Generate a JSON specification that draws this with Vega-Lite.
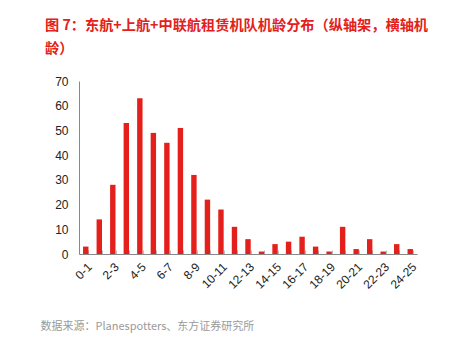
{
  "$schema": "https://vega.github.io/schema/vega-lite/v6.json",
  "width": 338,
  "height": 173,
  "padding": {"left": 40, "top": 18, "right": 5, "bottom": 5},
  "background": "white",
  "title": {
    "text": ["图 7：东航+上航+中联航租赁机队机龄分布（纵轴架，横轴机", "龄）"],
    "anchor": "start",
    "frame": "group",
    "dx": -34,
    "offset": 19,
    "color": "#E3201B",
    "font": "Noto Sans CJK SC",
    "fontSize": 14.2,
    "fontWeight": "bold",
    "lineHeight": 23
  },
  "config": {"view": {"stroke": null}},
  "data": {
    "values": [
      {"age": "0-1", "count": 3},
      {"age": "1-2", "count": 14},
      {"age": "2-3", "count": 28},
      {"age": "3-4", "count": 53},
      {"age": "4-5", "count": 63},
      {"age": "5-6", "count": 49},
      {"age": "6-7", "count": 45},
      {"age": "7-8", "count": 51},
      {"age": "8-9", "count": 32},
      {"age": "9-10", "count": 22},
      {"age": "10-11", "count": 18},
      {"age": "11-12", "count": 11},
      {"age": "12-13", "count": 6},
      {"age": "13-14", "count": 1},
      {"age": "14-15", "count": 4},
      {"age": "15-16", "count": 5},
      {"age": "16-17", "count": 7},
      {"age": "17-18", "count": 3},
      {"age": "18-19", "count": 1},
      {"age": "19-20", "count": 11},
      {"age": "20-21", "count": 2},
      {"age": "21-22", "count": 6},
      {"age": "22-23", "count": 1},
      {"age": "23-24", "count": 4},
      {"age": "24-25", "count": 2}
    ]
  },
  "mark": {"type": "bar", "color": "#E3201B"},
  "encoding": {
    "x": {
      "field": "age",
      "type": "nominal",
      "sort": null,
      "scale": {"paddingInner": 0.6, "paddingOuter": 0.3},
      "axis": {
        "title": "数据来源：Planespotters、东方证券研究所",
        "titleFont": "Noto Sans CJK SC",
        "titleFontSize": 11,
        "titleFontWeight": "normal",
        "titleColor": "#9a9a9a",
        "titleAnchor": "start",
        "titleAlign": "left",
        "titleX": -39,
        "titleY": 75,
        "titleBaseline": "alphabetic",
        "labelExpr": "toNumber(split(datum.value,'-')[0]) % 2 === 0 ? datum.label : ''",
        "labelAngle": -45,
        "labelFont": "Liberation Sans",
        "labelFontSize": 12,
        "labelColor": "#222",
        "labelPadding": 11,
        "labelOverlap": false,
        "tickBand": "extent",
        "tickSize": -4,
        "tickColor": "#bbb",
        "domainColor": "#888"
      }
    },
    "y": {
      "field": "count",
      "type": "quantitative",
      "scale": {"domain": [0, 70]},
      "axis": {
        "title": null,
        "values": [0, 10, 20, 30, 40, 50, 60, 70],
        "grid": false,
        "ticks": false,
        "labelPadding": 11,
        "labelFont": "Liberation Sans",
        "labelFontSize": 12,
        "labelColor": "#222",
        "domainColor": "#888",
        "minExtent": 30,
        "maxExtent": 30
      }
    }
  }
}
